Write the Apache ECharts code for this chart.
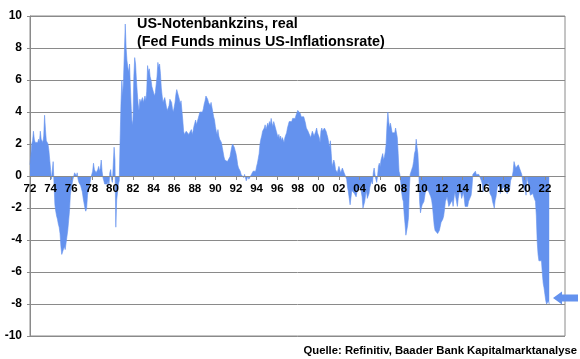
<!DOCTYPE html>
<html><head><meta charset="utf-8">
<script src="https://cdn.jsdelivr.net/npm/echarts@6/dist/echarts.min.js"></script>
<style>html,body{margin:0;padding:0;background:#fff}#c{width:580px;height:359px}</style>
</head><body><div id="c"></div>
<script>
// monthly real fed funds rate (Fed Funds minus CPI inflation), starting Jan 1972
const startYear = 1972;
const real1970s = [
  0.7, 1.3, 2.0, 2.2, 2.8, 2.3, 2.1, 2.2, 2.0, 2.1, 2.3, 2.1,
  2.8, 2.3, 2.4, 2.1, 2.5, 3.8, 2.9, 2.2, 2.1, 2.0, 1.6, 1.0,
  0.4, -0.2, -0.1, 0.9, -0.5, -1.8, -2.2, -2.5, -2.7, -3.0, -3.2, -3.6,
  -4.4, -4.9, -5.0, -4.8, -4.4, -4.6, -4.5, -3.8, -3.4, -2.8, -2.2, -1.2,
  -0.8, -0.5, -0.2, -0.3, 0.2, 0.1, 0.0, 0.2, -0.2, -0.4, -0.5, -0.6,
  -0.8, -1.0, -1.4, -1.5, -2.0, -2.2, -2.0, -1.2, -0.8, -0.6, -0.4, -0.1,
  -0.1, 0.3, 0.8, 0.4, 0.5, 0.2, 0.3, 0.4, 0.6, 0.3, 0.5, 1.0,
  0.3, -0.1, -0.3, -0.5, -0.4, -0.6, -0.5, -0.3, -0.6, 0.2, 0.4, -0.2
];
const real1980s = [
  -0.4, -0.3, 1.8, 1.0, -3.2, -1.5, -1.0, -0.5, -0.3, 2.3, 4.5, 6.0,
  5.0, 6.1, 6.2, 9.5, 8.0, 7.2, 6.8, 6.5, 7.0, 5.5, 4.2, 3.2,
  3.5, 6.2, 7.4, 7.0, 6.0, 5.2, 4.5, 4.1, 4.8, 4.6, 4.7, 4.9,
  4.6, 4.8, 5.0, 4.7, 5.3, 6.9, 6.5, 6.7, 6.2, 6.0, 5.6, 5.4,
  5.3, 5.0, 5.2, 5.7, 6.2, 7.1, 6.8, 7.0, 6.4, 5.5, 5.0, 4.6,
  4.7, 4.9, 4.8, 4.3, 4.1, 4.0, 4.4, 4.8, 4.9, 4.6, 4.2, 4.0,
  4.3, 4.6, 5.1, 5.4, 5.3, 5.0, 4.8, 4.5, 4.7, 4.6, 3.5, 2.8,
  2.6, 2.5, 2.8, 2.7, 2.9, 2.6, 2.5, 2.7, 2.9, 2.6, 2.8, 3.1,
  3.3, 3.5, 3.2, 3.4, 3.6, 3.8, 4.0, 3.9, 4.1, 4.0, 4.2, 4.5,
  4.7, 5.0, 4.9, 4.8, 4.6, 4.5, 4.4, 4.6, 4.3, 4.0, 3.7, 3.5
];
const real1990s = [
  3.1, 2.8, 2.6, 2.9, 2.5, 2.3, 2.2, 2.1, 1.8, 1.5, 1.2, 1.0,
  0.9, 1.0, 0.9, 0.8, 1.0, 1.2, 1.5, 1.8, 2.0, 2.1, 1.8, 1.6,
  1.4, 1.1, 0.7, 0.5, 0.4, 0.3, 0.1, 0.2, 0.0, -0.1, 0.1, -0.1,
  -0.3, -0.2, 0.0, -0.2, -0.3, -0.1, 0.1, 0.2, 0.3, 0.2, 0.4, 0.3,
  0.6, 0.8, 1.1, 1.4, 2.0, 2.3, 2.5, 2.8, 2.9, 3.0, 3.2, 2.9,
  3.0, 3.3, 3.1, 3.4, 3.2, 3.6, 3.3, 3.1, 3.4, 3.2, 3.0, 2.8,
  2.7, 2.4, 2.6, 2.3, 2.5, 2.2, 2.4, 2.3, 2.1, 2.4, 2.5, 2.7,
  3.0, 3.2, 3.4, 3.3, 3.5, 3.4, 3.6, 3.5, 3.7, 3.6, 3.8, 3.9,
  4.1, 4.0, 4.1, 3.9, 3.7, 3.8, 3.6, 3.7, 3.5, 3.3, 3.0, 2.9,
  2.8, 2.9, 2.7, 2.4, 2.6, 2.8, 2.7, 2.5, 2.6, 2.8, 3.0, 2.7
];
const real2000s = [
  2.7, 2.4, 2.1, 2.8, 3.0, 2.8, 2.7, 3.0, 2.9, 2.8, 2.6, 2.4,
  2.1, 1.8, 2.2, 1.4, 0.6, 0.8, 1.0, 0.8, 0.4, 0.4, 0.2, 0.3,
  0.6, 0.5, 0.2, 0.3, 0.5, 0.6, 0.2, 0.1, 0.3, -0.2, -0.7, -1.0,
  -1.4, -1.8, -1.7, -0.9, -0.8, -0.9, -1.1, -1.2, -1.3, -1.0, -0.8, -0.9,
  -0.9, -0.7, -0.8, -1.3, -2.0, -2.1, -1.6, -1.2, -0.9, -1.4, -1.5, -1.1,
  -0.7, -0.5, -0.3, -0.5, 0.2, 0.5, 0.1, -0.2, -0.4, 0.0, 0.6, 0.8,
  0.6, 1.0, 1.2, 1.4, 1.0, 1.2, 1.5, 2.0, 3.2, 4.0, 3.4, 3.0,
  3.3, 3.0, 2.7, 2.6, 2.8, 2.7, 3.0, 3.1, 2.4, 1.4, 0.3, 0.1,
  -0.4, -1.0, -1.4, -1.6, -2.4, -3.0, -3.7, -3.4, -3.1, -2.6, -0.8, 0.1,
  0.1, 0.0, 0.6, 0.9, 1.4, 1.6, 2.3, 1.8, 1.4, 0.3, -1.6, -2.3
];
const real2010s = [
  -2.0, -1.8, -1.9, -1.6, -1.5, -0.9, -1.0, -0.8, -0.9, -1.0, -0.9, -1.3,
  -1.5, -1.9, -2.5, -3.1, -3.4, -3.5, -3.4, -3.6, -3.7, -3.4, -3.3, -2.9,
  -2.8, -2.7, -2.5, -2.1, -1.6, -1.5, -1.3, -1.6, -1.9, -2.0, -1.7, -1.6,
  -1.5, -1.9, -1.4, -1.0, -1.3, -1.6, -1.9, -1.4, -1.1, -0.9, -1.1, -1.4,
  -1.5, -1.0, -1.4, -1.9, -2.0, -2.0, -1.9, -1.6, -1.6, -1.6, -1.2, -0.7,
  0.1, 0.2, 0.2, 0.3, 0.1, 0.1, 0.0, 0.1, 0.2, 0.1, -0.3, -0.5,
  -1.0, -0.6, -0.5, -0.7, -0.6, -0.6, -0.4, -0.7, -1.1, -1.2, -1.3, -1.6,
  -1.8, -2.0, -1.5, -1.3, -0.9, -0.5, -0.6, -0.7, -1.1, -0.9, -1.0, -0.8,
  -0.7, -0.8, -0.9, -0.8, -1.1, -1.0, -1.0, -0.8, -0.3, -0.3, 0.0, 0.3,
  0.9, 1.0, 0.5, 0.4, 0.6, 0.7, 0.6, 0.4, 0.3, 0.1, 0.0, -0.7
];
const real2020s = [
  -0.9, -0.7, -1.2, 0.0, -0.1, -0.6, -0.9, -1.2, -1.3, -1.1, -1.1, -1.3,
  -1.3, -1.6, -2.5, -4.1, -4.9, -5.3, -5.3, -5.2, -5.3, -6.1, -6.7, -7.0,
  -7.4, -7.8, -8.0, -7.9, -7.8, -8.0
];
const xTickLabels = ['72','74','76','78','80','82','84','86','88','90','92','94','96','98','00','02','04','06','08','10','12','14','16','18','20','22'];
const yTickValues = [-10,-8,-6,-4,-2,0,2,4,6,8,10];
const titleLines = ['US-Notenbankzins, real', '(Fed Funds minus US-Inflationsrate)'];
const sourceText = 'Quelle: Refinitiv, Baader Bank Kapitalmarktanalyse';

const BLUE = '#6492ee';
const GRIDC = '#8a8a8a';
const FONT = 'Arial, "Liberation Sans", sans-serif';

const values = [].concat(real1970s, real1980s, real1990s, real2000s, real2010s, real2020s);
const seriesData = values.map((v, i) => [startYear + i / 12, v]);

const GRID_TOP = 16, GRID_BOTTOM = 23, H = 359;
const plotH = H - GRID_TOP - GRID_BOTTOM;
const yMin = yTickValues[0], yMax = yTickValues[yTickValues.length - 1];
// shift the horizontal axis up to the zero line
const zeroOffset = -plotH * (0 - yMin) / (yMax - yMin);

const chart = echarts.init(document.getElementById('c'), null, {renderer: 'canvas'});
chart.setOption({
  animation: false,
  backgroundColor: '#fff',
  grid: {left: 30, right: 15, top: GRID_TOP, bottom: GRID_BOTTOM, show: true, borderColor: GRIDC, borderWidth: 1, containLabel: false},
  xAxis: {
    type: 'value', min: startYear, max: 2023.95, interval: 2,
    position: 'bottom', offset: zeroOffset, z: 5,
    axisLine: {onZero: false, lineStyle: {color: GRIDC, width: 1}},
    axisTick: {show: true, length: 4, lineStyle: {color: GRIDC}},
    splitLine: {show: false},
    axisLabel: {
      showMaxLabel: false, margin: 7, color: '#000', fontWeight: 'bold', fontSize: 11.5, fontFamily: FONT,
      formatter: function (v) {
        const idx = Math.round((v - startYear) / 2);
        if (Math.abs(v - (startYear + idx * 2)) > 1e-6) return '';
        return xTickLabels[idx] || '';
      }
    }
  },
  yAxis: {
    type: 'value', min: yMin, max: yMax, interval: 2,
    axisLine: {show: true, lineStyle: {color: GRIDC}},
    axisTick: {show: true, length: 3, lineStyle: {color: GRIDC}},
    splitLine: {show: true, lineStyle: {color: GRIDC, width: 1}},
    axisLabel: {margin: 8, color: '#000', fontWeight: 'bold', fontSize: 12, fontFamily: FONT}
  },
  series: [{
    type: 'line', data: seriesData, symbol: 'none', showSymbol: false,
    lineStyle: {width: 0.6, color: BLUE},
    areaStyle: {color: BLUE, opacity: 1, origin: 0},
    z: 1
  }],
  graphic: [
    {type: 'text', left: 137, top: 17.5, z: 10, style: {text: titleLines[0], fill: '#000', font: 'bold 14.4px ' + FONT}},
    {type: 'text', left: 137, top: 35, z: 10, style: {text: titleLines[1], fill: '#000', font: 'bold 14.4px ' + FONT}},
    {type: 'text', right: 3, top: 345, z: 10, style: {text: sourceText, fill: '#000', font: 'bold 11.3px ' + FONT}},
    {type: 'polygon', z: 10, shape: {points: [[553, 298], [562, 291.5], [562, 294.5], [578, 294.5], [578, 301.5], [562, 301.5], [562, 304.5]]}, style: {fill: BLUE}}
  ]
});
</script>
</body></html>
